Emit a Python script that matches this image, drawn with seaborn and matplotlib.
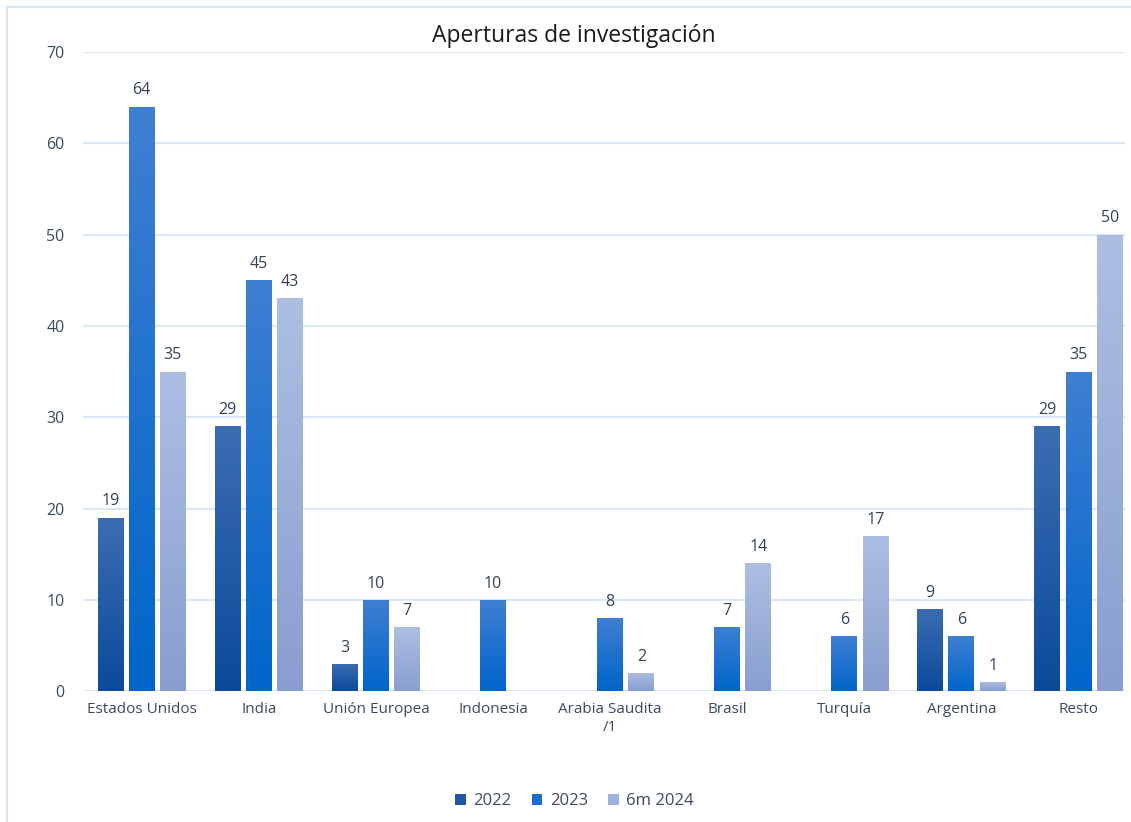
import numpy as np
import pandas as pd
import matplotlib
matplotlib.use("Agg")
import matplotlib.pyplot as plt
import seaborn as sns
from matplotlib.colors import LinearSegmentedColormap
from matplotlib.patches import Patch

categories = ["Estados Unidos", "India", "Unión Europea", "Indonesia",
              "Arabia Saudita\n/1", "Brasil", "Turquía", "Argentina", "Resto"]
series = ["2022", "2023", "6m 2024"]
v2022 = [19, 29, 3, np.nan, np.nan, np.nan, np.nan, 9, 29]
v2023 = [64, 45, 10, 10, 8, 7, 6, 6, 35]
v2024 = [35, 43, 7, np.nan, 2, 14, 17, 1, 50]
yticks = [0, 10, 20, 30, 40, 50, 60, 70]

title = "Aperturas de investigación"
# gradient colours (top, bottom) per series
grad = {"2022": ("#3C6DB3", "#0B4A9B"),
        "2023": ("#3F7FD2", "#0065CA"),
        "6m 2024": ("#ACBFE3", "#899ECF")}
legend_col = {"2022": "#1F55A5", "2023": "#1A6FCC", "6m 2024": "#9DB2DD"}

df = pd.DataFrame({
    "cat": categories * 3,
    "serie": sum([[s] * len(categories) for s in series], []),
    "val": v2022 + v2023 + v2024,
})

sns.set_theme(style="white")
plt.rcParams["font.family"] = ["Open Sans", "DejaVu Sans"]

fig = plt.figure(figsize=(11.31, 8.22), dpi=100)
ax = fig.add_axes([0.073, 0.159, 0.922, 0.778])

palette = {s: legend_col[s] for s in series}
sns.barplot(data=df, x="cat", y="val", hue="serie", hue_order=series,
            order=categories, palette=palette, width=0.80, gap=0.17,
            ax=ax, legend=False, saturation=1)

ax.set_ylim(0, 70)
ax.set_xlim(-0.505, 8.40)
ax.set_yticks(yticks)
ax.yaxis.grid(True, color="#DCE8F6", linewidth=1.6)
ax.set_axisbelow(True)
for sp in ax.spines.values():
    sp.set_visible(False)
ax.set_xlabel("")
ax.set_ylabel("")
ax.tick_params(axis="both", length=0, colors="#44546A")
ax.tick_params(axis="y", pad=13, labelsize=11.5)
ax.tick_params(axis="x", pad=8, labelsize=11)
for lbl in ax.get_xticklabels() + ax.get_yticklabels():
    lbl.set_color("#3B4A60")

# gradients clipped to each bar; labels above
for container, s in zip(ax.containers, series):
    top, bot = grad[s]
    cmap = LinearSegmentedColormap.from_list("g" + s, [bot, top])
    for patch in container.patches:
        h = patch.get_height()
        if not np.isfinite(h) or h <= 0:
            continue
        x0 = patch.get_x()
        w = patch.get_width()
        g = np.linspace(0, 1, 256).reshape(-1, 1)
        im = ax.imshow(g, cmap=cmap, origin="lower", aspect="auto",
                       extent=[x0, x0 + w, 0, h], zorder=2,
                       interpolation="bicubic")
        im.set_clip_path(patch)
        patch.set_facecolor("none")
        patch.set_edgecolor("none")
        ax.annotate(f"{int(h)}", (x0 + w / 2, h), xytext=(0, 6),
                    textcoords="offset points", ha="center", va="bottom",
                    fontsize=11.5, color="#33415A")

ax.set_xlim(-0.505, 8.40)
ax.set_ylim(0, 70)

fig.text(0.5075, 0.956, title, ha="center", va="center", fontsize=16.5,
         color="#1A1A1A")

handles = [Patch(facecolor=legend_col[s], edgecolor="none", label=s) for s in series]
fig.legend(handles=handles, loc="center", bbox_to_anchor=(0.508, 0.025), ncol=3,
           frameon=False, fontsize=12, handlelength=0.65, handleheight=0.65,
           handletextpad=0.45, columnspacing=1.2, labelcolor="#3B4A60")

# light blue border (left and top)
fig.add_artist(plt.Line2D([0.0062, 0.0062], [0, 0.9915], transform=fig.transFigure,
                          color="#D6E4F5", linewidth=1.5))
fig.add_artist(plt.Line2D([0.0062, 1.0], [0.9915, 0.9915], transform=fig.transFigure,
                          color="#D6E4F5", linewidth=1.5))

fig.savefig("out.png", dpi=100, facecolor="white")
